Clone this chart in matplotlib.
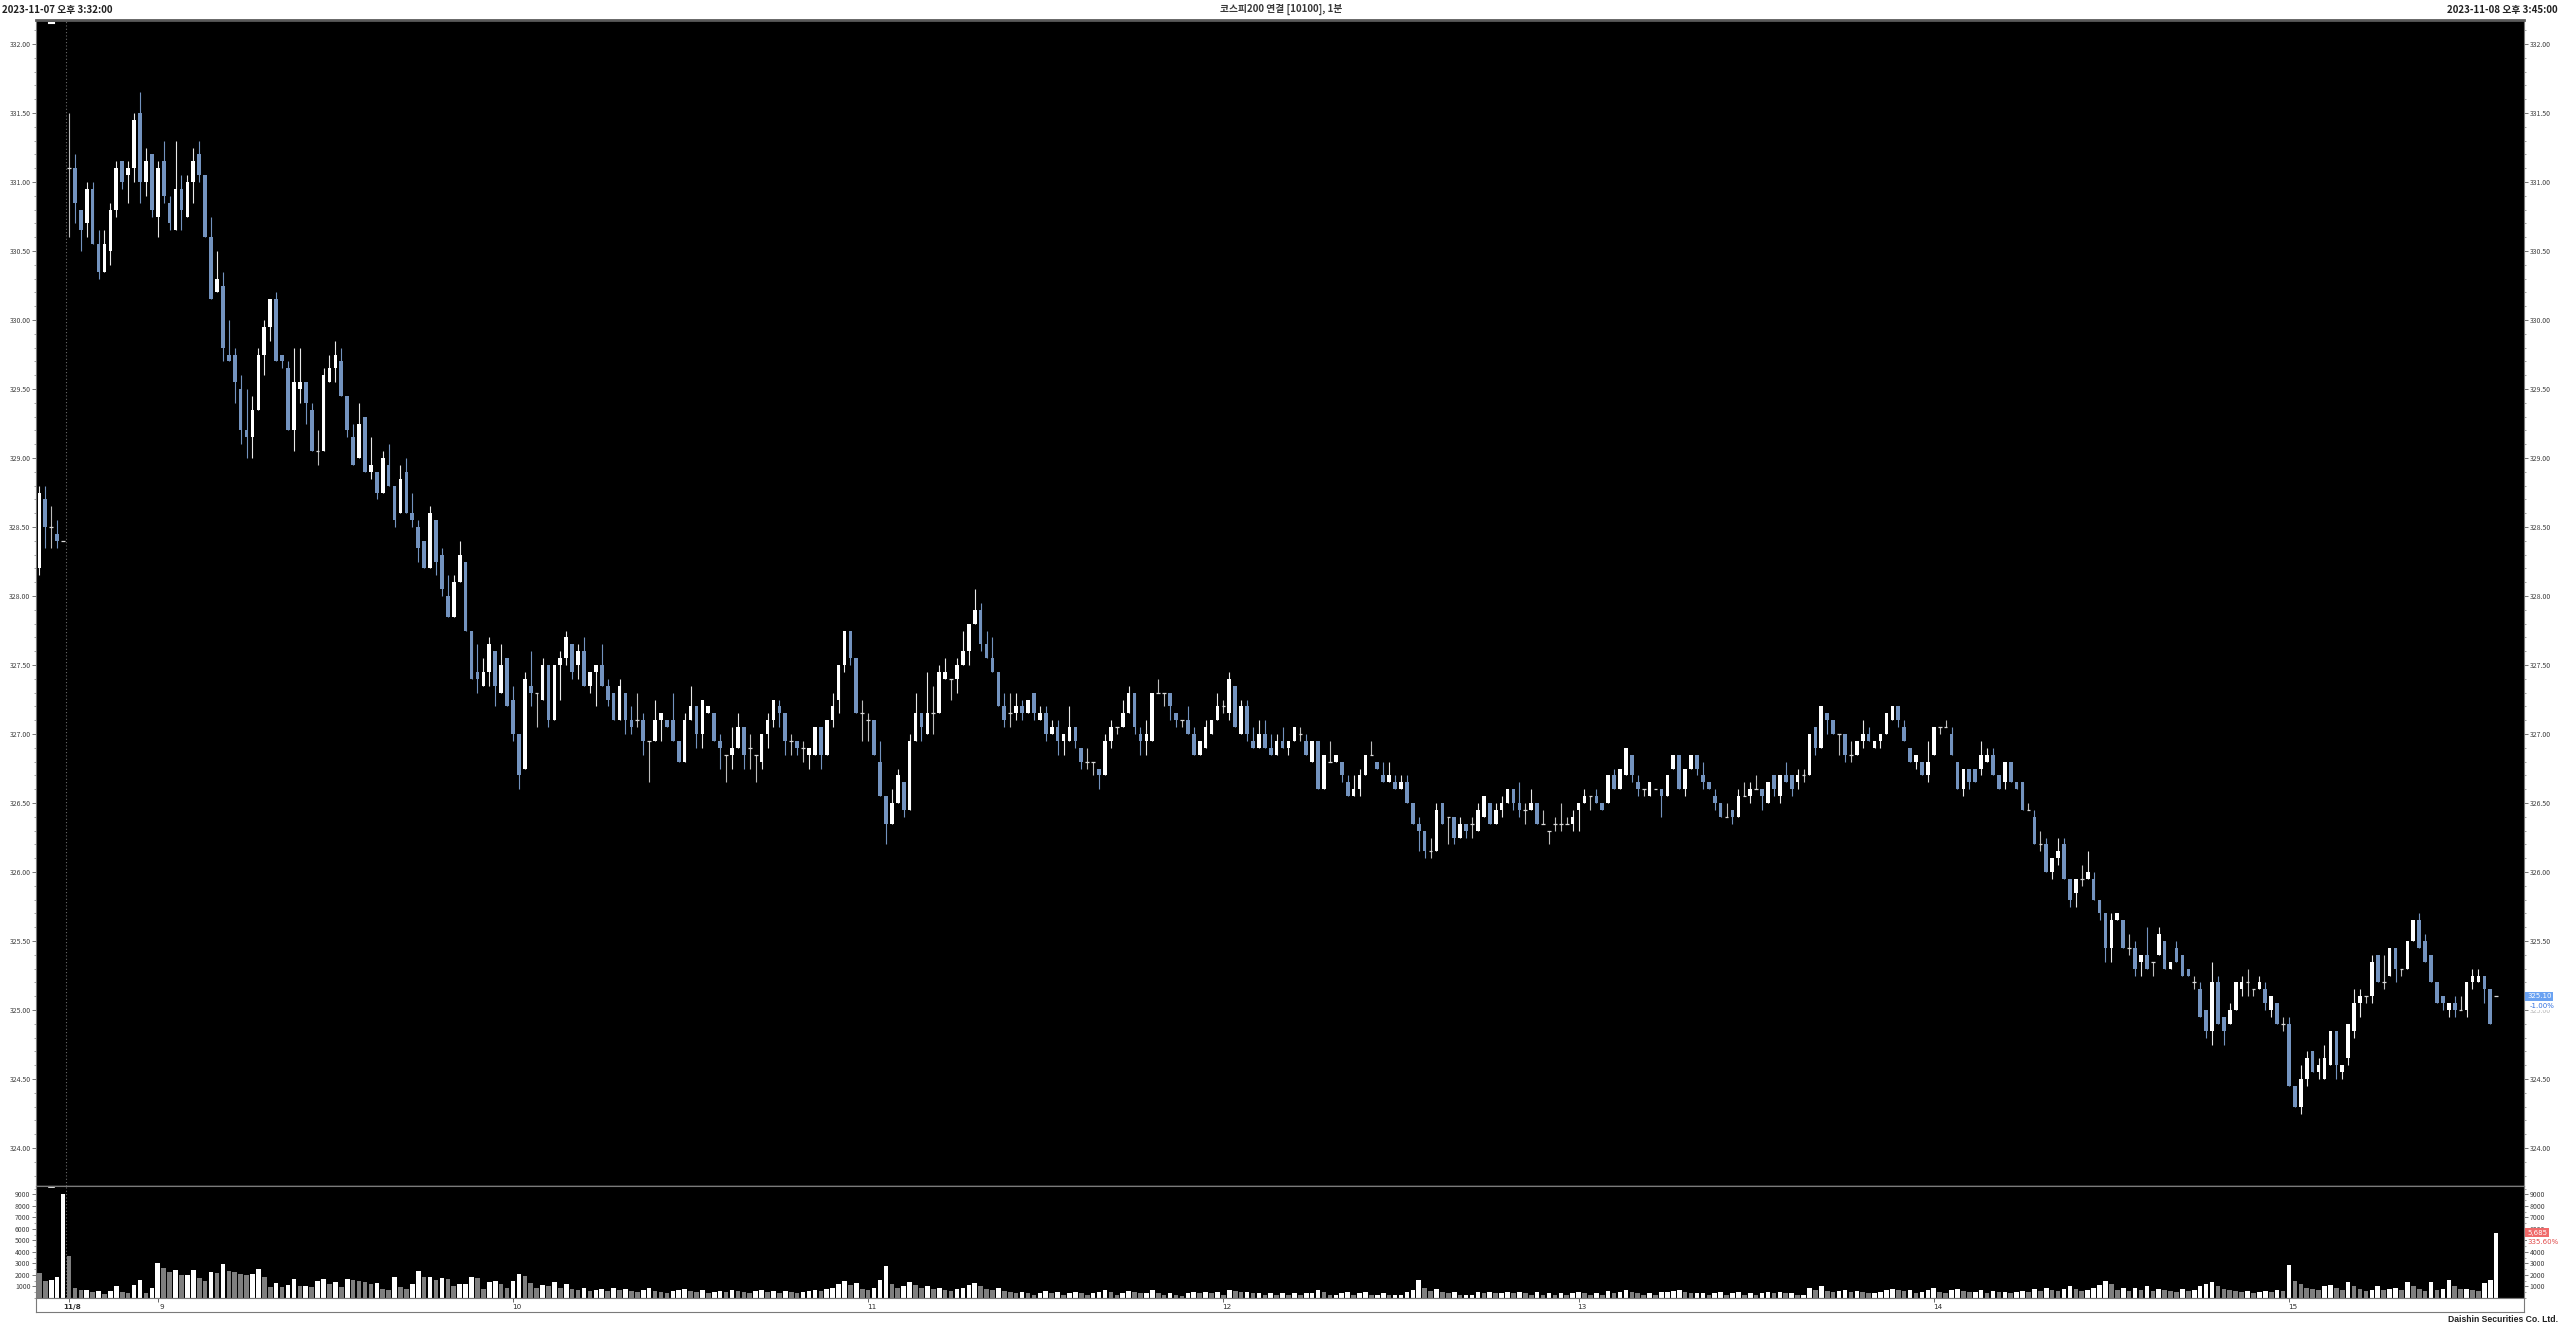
import matplotlib
matplotlib.use('Agg')
import matplotlib.pyplot as plt
import numpy as np
from matplotlib.ticker import MultipleLocator, FixedLocator, FormatStrFormatter
from matplotlib.transforms import blended_transform_factory as blend

plt.rcParams['font.family'] = ['Noto Sans CJK KR', 'DejaVu Sans']

# ---------------- data (1-minute candles; 5 from 11/7, then 11/8 08:45 .. 15:34 + 15:45) --------------
prev_day_count = 5
opens = [
    328.20, 328.70, 328.50, 328.45, 328.40,
    331.10, 331.10, 330.80, 330.70, 330.95, 330.55, 330.35, 330.50, 330.80, 331.15,
    331.05, 331.10, 331.50, 331.00, 331.20, 330.75, 331.15, 330.85, 330.65, 330.95,
    330.75, 331.00, 331.20, 331.05, 330.60, 330.20, 330.25, 329.75, 329.75, 329.50,
    329.20, 329.15, 329.35, 329.75, 329.95, 330.15, 329.75, 329.65, 329.20, 329.50,
    329.55, 329.35, 329.05, 329.05, 329.55, 329.65, 329.70, 329.45, 329.15, 329.00,
    329.30, 328.90, 328.90, 328.75, 328.95, 328.80, 328.60, 328.90, 328.60, 328.50,
    328.40, 328.20, 328.55, 328.30, 328.00, 327.85, 328.10, 328.25, 327.75, 327.45,
    327.35, 327.45, 327.60, 327.30, 327.55, 327.25, 327.00, 326.75, 327.35, 327.30,
    327.25, 327.50, 327.10, 327.50, 327.55, 327.65, 327.50, 327.60, 327.35, 327.45,
    327.50, 327.35, 327.30, 327.10, 327.30, 327.10, 327.10, 327.10, 326.95, 326.95,
    327.10, 327.10, 327.10, 326.95, 326.80, 327.10, 327.20, 327.00, 327.15, 327.15,
    326.95, 326.85, 326.85, 326.90, 327.05, 326.90, 326.85, 326.80, 327.00, 327.10,
    327.20, 327.15, 326.95, 326.95, 326.90, 326.85, 326.85, 327.05, 326.85, 327.10,
    327.25, 327.50, 327.75, 327.55, 327.15, 327.10, 327.10, 326.80, 326.55, 326.35,
    326.50, 326.65, 326.45, 326.95, 327.15, 327.00, 327.15, 327.15, 327.40, 327.40,
    327.40, 327.50, 327.60, 327.80, 327.90, 327.65, 327.55, 327.45, 327.20, 327.15,
    327.15, 327.20, 327.15, 327.30, 327.10, 327.15, 327.00, 327.05, 326.95, 326.95,
    327.05, 326.90, 326.80, 326.80, 326.75, 326.70, 326.95, 327.05, 327.05, 327.15,
    327.30, 327.00, 326.95, 326.95, 327.30, 327.30, 327.30, 327.15, 327.10, 327.10,
    327.00, 326.85, 326.90, 327.00, 327.10, 327.20, 327.15, 327.35, 327.00, 327.20,
    326.95, 326.90, 327.00, 326.90, 326.85, 326.95, 326.90, 326.95, 327.00, 326.95,
    326.80, 326.95, 326.60, 326.80, 326.80, 326.80, 326.65, 326.55, 326.60, 326.70,
    326.85, 326.80, 326.70, 326.65, 326.65, 326.60, 326.65, 326.50, 326.35, 326.30,
    326.15, 326.15, 326.50, 326.40, 326.40, 326.25, 326.35, 326.35, 326.30, 326.40,
    326.50, 326.35, 326.45, 326.50, 326.60, 326.50, 326.45, 326.45, 326.50, 326.35,
    326.30, 326.35, 326.35, 326.35, 326.35, 326.45, 326.50, 326.55, 326.55, 326.50,
    326.50, 326.70, 326.60, 326.70, 326.85, 326.65, 326.60, 326.55, 326.60, 326.60,
    326.55, 326.75, 326.85, 326.60, 326.75, 326.85, 326.70, 326.65, 326.55, 326.50,
    326.40, 326.45, 326.40, 326.55, 326.55, 326.60, 326.60, 326.50, 326.70, 326.55,
    326.70, 326.70, 326.65, 326.70, 326.70, 327.05, 326.90, 327.15, 327.10, 327.00,
    327.00, 326.85, 326.85, 326.95, 327.00, 326.90, 326.95, 327.00, 327.10, 327.20,
    327.05, 326.90, 326.80, 326.80, 326.70, 326.85, 327.05, 327.05, 327.00, 326.80,
    326.60, 326.75, 326.75, 326.75, 326.80, 326.85, 326.70, 326.65, 326.80, 326.65,
    326.65, 326.45, 326.40, 326.20, 326.20, 326.00, 326.10, 326.20, 325.95, 325.85,
    325.95, 325.95, 325.95, 325.80, 325.70, 325.45, 325.65, 325.65, 325.45, 325.45,
    325.35, 325.40, 325.35, 325.40, 325.50, 325.30, 325.45, 325.40, 325.30, 325.20,
    325.15, 325.00, 324.85, 325.20, 324.95, 324.90, 325.00, 325.15, 325.20, 325.15,
    325.15, 325.15, 325.00, 325.05, 324.90, 324.90, 324.45, 324.30, 324.50, 324.70,
    324.55, 324.50, 324.60, 324.85, 324.55, 324.65, 324.85, 325.05, 325.10, 325.10,
    325.40, 325.20, 325.25, 325.45, 325.30, 325.30, 325.50, 325.65, 325.50, 325.40,
    325.20, 325.10, 325.00, 325.05, 325.00, 325.00, 325.20, 325.20, 325.25, 325.15, 325.10,
]
highs = [
    328.80, 328.80, 328.65, 328.55, 328.40,
    331.50, 331.20, 330.80, 331.00, 331.00, 330.65, 330.65, 330.85, 331.15, 331.15,
    331.15, 331.50, 331.65, 331.25, 331.20, 331.15, 331.30, 330.90, 331.30, 331.05,
    331.05, 331.25, 331.30, 331.05, 330.75, 330.50, 330.35, 330.00, 329.80, 329.60,
    329.50, 329.45, 329.80, 330.00, 330.15, 330.20, 329.75, 329.70, 329.80, 329.80,
    329.55, 329.40, 329.20, 329.65, 329.75, 329.85, 329.80, 329.45, 329.25, 329.40,
    329.30, 329.15, 328.90, 329.05, 329.10, 328.80, 328.95, 329.00, 328.75, 328.55,
    328.40, 328.65, 328.55, 328.35, 328.15, 328.15, 328.40, 328.25, 327.75, 327.65,
    327.55, 327.70, 327.60, 327.65, 327.55, 327.35, 327.00, 327.45, 327.60, 327.30,
    327.55, 327.50, 327.50, 327.60, 327.75, 327.65, 327.65, 327.70, 327.45, 327.50,
    327.65, 327.40, 327.30, 327.40, 327.30, 327.20, 327.30, 327.15, 326.95, 327.25,
    327.15, 327.10, 327.30, 326.95, 327.15, 327.35, 327.20, 327.25, 327.20, 327.15,
    327.00, 326.85, 327.05, 327.15, 327.05, 327.00, 326.85, 327.00, 327.15, 327.25,
    327.25, 327.15, 327.00, 326.95, 326.95, 326.90, 327.05, 327.05, 327.10, 327.30,
    327.50, 327.75, 327.75, 327.55, 327.25, 327.15, 327.10, 326.95, 326.55, 326.60,
    326.75, 326.65, 327.00, 327.30, 327.15, 327.45, 327.35, 327.50, 327.55, 327.40,
    327.55, 327.75, 327.80, 328.05, 327.95, 327.75, 327.70, 327.45, 327.30, 327.30,
    327.30, 327.25, 327.25, 327.30, 327.20, 327.20, 327.10, 327.10, 327.00, 327.20,
    327.05, 326.90, 326.90, 326.80, 326.75, 327.00, 327.10, 327.05, 327.25, 327.35,
    327.30, 327.05, 327.10, 327.30, 327.40, 327.30, 327.30, 327.15, 327.10, 327.20,
    327.05, 326.95, 327.10, 327.10, 327.30, 327.25, 327.45, 327.35, 327.25, 327.25,
    327.05, 327.10, 327.10, 327.00, 327.00, 327.05, 326.95, 327.05, 327.05, 327.00,
    326.95, 326.95, 326.85, 326.95, 326.85, 326.80, 326.70, 326.70, 326.75, 326.85,
    326.95, 326.80, 326.80, 326.80, 326.70, 326.70, 326.70, 326.50, 326.40, 326.30,
    326.25, 326.50, 326.50, 326.40, 326.40, 326.40, 326.35, 326.40, 326.50, 326.55,
    326.50, 326.50, 326.55, 326.60, 326.60, 326.65, 326.50, 326.60, 326.50, 326.45,
    326.30, 326.40, 326.50, 326.40, 326.45, 326.50, 326.60, 326.55, 326.60, 326.50,
    326.70, 326.75, 326.75, 326.90, 326.85, 326.70, 326.60, 326.65, 326.60, 326.60,
    326.70, 326.85, 326.85, 326.75, 326.85, 326.85, 326.80, 326.65, 326.60, 326.50,
    326.50, 326.45, 326.60, 326.65, 326.65, 326.70, 326.60, 326.65, 326.70, 326.70,
    326.80, 326.70, 326.75, 326.75, 327.00, 327.05, 327.20, 327.15, 327.10, 327.00,
    327.00, 326.95, 326.95, 327.10, 327.05, 326.95, 327.00, 327.15, 327.20, 327.20,
    327.10, 326.90, 326.85, 326.80, 326.95, 327.05, 327.05, 327.10, 327.05, 326.80,
    326.75, 326.75, 326.75, 326.95, 326.90, 326.90, 326.70, 326.80, 326.80, 326.65,
    326.65, 326.50, 326.45, 326.30, 326.25, 326.10, 326.25, 326.25, 325.95, 325.95,
    326.05, 326.15, 326.00, 325.80, 325.70, 325.70, 325.70, 325.65, 325.55, 325.50,
    325.40, 325.60, 325.35, 325.60, 325.50, 325.35, 325.50, 325.40, 325.30, 325.25,
    325.20, 325.00, 325.35, 325.25, 324.95, 325.05, 325.20, 325.25, 325.30, 325.15,
    325.25, 325.20, 325.10, 325.05, 324.95, 324.95, 324.45, 324.60, 324.70, 324.70,
    324.65, 324.75, 324.85, 324.85, 324.60, 324.90, 325.15, 325.15, 325.10, 325.40,
    325.40, 325.40, 325.45, 325.45, 325.30, 325.50, 325.65, 325.70, 325.55, 325.40,
    325.20, 325.10, 325.05, 325.10, 325.10, 325.20, 325.30, 325.30, 325.25, 325.15, 325.10,
]
lows = [
    328.15, 328.35, 328.35, 328.35, 328.40,
    330.60, 330.70, 330.50, 330.60, 330.55, 330.30, 330.35, 330.40, 330.75, 330.95,
    330.85, 331.00, 330.85, 330.90, 330.75, 330.60, 330.85, 330.65, 330.65, 330.65,
    330.75, 330.85, 331.00, 330.60, 330.15, 330.20, 329.70, 329.70, 329.40, 329.10,
    329.00, 329.00, 329.35, 329.60, 329.85, 329.70, 329.65, 329.20, 329.05, 329.40,
    329.25, 329.05, 328.95, 329.05, 329.55, 329.55, 329.45, 329.15, 328.95, 329.00,
    328.90, 328.85, 328.70, 328.75, 328.80, 328.50, 328.60, 328.60, 328.50, 328.25,
    328.20, 328.20, 328.15, 328.00, 327.85, 327.85, 328.10, 327.75, 327.40, 327.30,
    327.35, 327.35, 327.20, 327.30, 327.20, 326.95, 326.60, 326.75, 327.20, 327.05,
    327.25, 327.05, 327.10, 327.25, 327.50, 327.40, 327.40, 327.35, 327.30, 327.20,
    327.35, 327.20, 327.10, 327.10, 327.00, 327.00, 327.05, 326.85, 326.65, 326.95,
    326.95, 327.05, 326.95, 326.80, 326.80, 327.10, 326.90, 326.90, 327.15, 326.95,
    326.75, 326.65, 326.75, 326.90, 326.75, 326.75, 326.65, 326.75, 326.90, 327.05,
    327.05, 326.85, 326.85, 326.85, 326.80, 326.75, 326.85, 326.75, 326.85, 327.05,
    327.15, 327.45, 327.50, 327.15, 326.95, 326.95, 326.85, 326.55, 326.20, 326.35,
    326.50, 326.40, 326.45, 326.95, 326.95, 327.00, 327.00, 327.15, 327.40, 327.25,
    327.30, 327.50, 327.50, 327.80, 327.60, 327.55, 327.45, 327.20, 327.05, 327.05,
    327.10, 327.10, 327.15, 327.10, 327.10, 326.95, 327.00, 326.85, 326.85, 326.95,
    326.90, 326.75, 326.75, 326.70, 326.60, 326.70, 326.90, 327.00, 327.05, 327.15,
    327.00, 326.85, 326.85, 326.95, 327.30, 327.20, 327.10, 327.05, 327.05, 327.00,
    326.85, 326.85, 326.90, 327.00, 327.10, 327.15, 327.10, 327.05, 327.00, 326.95,
    326.90, 326.90, 326.90, 326.85, 326.85, 326.90, 326.85, 326.95, 326.95, 326.85,
    326.80, 326.60, 326.60, 326.80, 326.80, 326.65, 326.55, 326.55, 326.55, 326.70,
    326.85, 326.75, 326.65, 326.65, 326.60, 326.60, 326.50, 326.35, 326.15, 326.10,
    326.10, 326.15, 326.35, 326.20, 326.20, 326.25, 326.25, 326.25, 326.30, 326.40,
    326.35, 326.35, 326.40, 326.50, 326.45, 326.40, 326.35, 326.45, 326.35, 326.35,
    326.20, 326.30, 326.30, 326.35, 326.30, 326.30, 326.50, 326.45, 326.50, 326.45,
    326.50, 326.60, 326.60, 326.70, 326.65, 326.55, 326.55, 326.55, 326.60, 326.40,
    326.55, 326.75, 326.60, 326.55, 326.75, 326.70, 326.60, 326.60, 326.45, 326.40,
    326.40, 326.35, 326.40, 326.55, 326.50, 326.60, 326.45, 326.50, 326.55, 326.50,
    326.65, 326.55, 326.60, 326.65, 326.70, 326.85, 326.90, 327.00, 327.00, 326.85,
    326.80, 326.80, 326.85, 326.90, 326.95, 326.90, 326.90, 327.00, 327.10, 327.05,
    326.95, 326.80, 326.75, 326.70, 326.65, 326.85, 327.00, 327.05, 326.85, 326.60,
    326.55, 326.60, 326.65, 326.70, 326.80, 326.70, 326.60, 326.60, 326.65, 326.60,
    326.45, 326.45, 326.20, 326.15, 326.00, 325.95, 326.05, 325.95, 325.75, 325.75,
    325.90, 325.95, 325.80, 325.65, 325.35, 325.35, 325.65, 325.45, 325.40, 325.25,
    325.25, 325.30, 325.25, 325.40, 325.30, 325.30, 325.35, 325.25, 325.25, 325.15,
    324.95, 324.80, 324.75, 324.90, 324.75, 324.90, 325.00, 325.10, 325.10, 325.10,
    325.15, 325.00, 324.95, 324.90, 324.85, 324.45, 324.30, 324.25, 324.45, 324.55,
    324.50, 324.50, 324.60, 324.50, 324.50, 324.60, 324.80, 324.95, 325.05, 325.05,
    325.20, 325.15, 325.25, 325.20, 325.25, 325.30, 325.50, 325.45, 325.35, 325.20,
    325.05, 325.00, 324.95, 324.95, 325.00, 324.95, 325.15, 325.20, 325.05, 324.90, 325.10,
]
closes = [
    328.75, 328.50, 328.50, 328.40, 328.40,
    331.10, 330.85, 330.65, 330.95, 330.55, 330.35, 330.55, 330.80, 331.10, 331.00,
    331.10, 331.45, 331.00, 331.15, 330.80, 331.10, 330.90, 330.70, 330.95, 330.80,
    331.00, 331.15, 331.05, 330.60, 330.15, 330.30, 329.80, 329.70, 329.55, 329.20,
    329.15, 329.35, 329.75, 329.95, 330.15, 329.70, 329.70, 329.20, 329.55, 329.55,
    329.40, 329.05, 329.05, 329.60, 329.65, 329.75, 329.45, 329.20, 328.95, 329.25,
    328.90, 328.95, 328.75, 329.00, 328.80, 328.55, 328.85, 328.60, 328.55, 328.35,
    328.20, 328.60, 328.25, 328.05, 327.85, 328.10, 328.30, 327.75, 327.40, 327.40,
    327.45, 327.65, 327.35, 327.50, 327.20, 327.00, 326.70, 327.40, 327.30, 327.30,
    327.50, 327.10, 327.50, 327.55, 327.70, 327.45, 327.60, 327.35, 327.45, 327.50,
    327.35, 327.25, 327.10, 327.35, 327.10, 327.05, 327.10, 326.95, 326.95, 327.10,
    327.15, 327.05, 326.95, 326.80, 327.10, 327.20, 327.00, 327.25, 327.20, 326.95,
    326.90, 326.85, 326.90, 327.05, 326.85, 326.90, 326.85, 327.00, 327.10, 327.25,
    327.15, 326.95, 326.95, 326.90, 326.90, 326.90, 327.05, 326.85, 327.10, 327.20,
    327.50, 327.75, 327.55, 327.15, 327.15, 327.10, 326.85, 326.55, 326.35, 326.50,
    326.70, 326.45, 326.95, 327.15, 327.05, 327.15, 327.15, 327.45, 327.45, 327.40,
    327.50, 327.60, 327.80, 327.90, 327.65, 327.55, 327.45, 327.20, 327.10, 327.15,
    327.20, 327.15, 327.25, 327.15, 327.15, 327.00, 327.05, 326.95, 327.00, 327.05,
    326.95, 326.80, 326.80, 326.80, 326.70, 326.95, 327.05, 327.05, 327.15, 327.30,
    327.05, 326.95, 327.00, 327.30, 327.30, 327.30, 327.20, 327.10, 327.10, 327.00,
    326.85, 326.95, 327.05, 327.10, 327.20, 327.20, 327.40, 327.05, 327.20, 327.00,
    326.90, 327.00, 326.90, 326.85, 326.95, 326.90, 326.95, 327.05, 327.00, 326.85,
    326.95, 326.60, 326.85, 326.80, 326.85, 326.70, 326.55, 326.60, 326.70, 326.85,
    326.85, 326.75, 326.65, 326.70, 326.60, 326.65, 326.50, 326.35, 326.30, 326.15,
    326.15, 326.45, 326.35, 326.40, 326.25, 326.35, 326.30, 326.35, 326.45, 326.55,
    326.35, 326.45, 326.50, 326.60, 326.50, 326.45, 326.45, 326.50, 326.35, 326.35,
    326.30, 326.35, 326.35, 326.35, 326.40, 326.50, 326.55, 326.55, 326.50, 326.45,
    326.70, 326.60, 326.75, 326.90, 326.70, 326.60, 326.60, 326.65, 326.60, 326.55,
    326.70, 326.85, 326.60, 326.75, 326.85, 326.75, 326.65, 326.60, 326.50, 326.40,
    326.40, 326.40, 326.55, 326.55, 326.60, 326.60, 326.55, 326.65, 326.60, 326.70,
    326.65, 326.60, 326.70, 326.70, 327.00, 326.90, 327.20, 327.10, 327.00, 327.00,
    326.85, 326.85, 326.95, 327.00, 326.95, 326.95, 327.00, 327.15, 327.20, 327.10,
    326.95, 326.80, 326.85, 326.70, 326.80, 327.05, 327.05, 327.05, 326.85, 326.60,
    326.75, 326.65, 326.65, 326.85, 326.85, 326.70, 326.60, 326.80, 326.65, 326.60,
    326.45, 326.45, 326.20, 326.20, 326.00, 326.10, 326.15, 325.95, 325.80, 325.95,
    325.95, 326.00, 325.80, 325.70, 325.45, 325.65, 325.70, 325.45, 325.45, 325.30,
    325.40, 325.30, 325.35, 325.55, 325.30, 325.35, 325.35, 325.25, 325.25, 325.20,
    324.95, 324.85, 325.20, 324.90, 324.85, 325.00, 325.20, 325.20, 325.20, 325.15,
    325.20, 325.05, 325.10, 324.90, 324.90, 324.45, 324.30, 324.50, 324.65, 324.55,
    324.60, 324.65, 324.85, 324.60, 324.60, 324.90, 325.05, 325.10, 325.10, 325.35,
    325.20, 325.20, 325.45, 325.30, 325.30, 325.50, 325.65, 325.45, 325.35, 325.20,
    325.05, 325.05, 325.05, 325.00, 325.00, 325.20, 325.25, 325.25, 325.15, 324.90, 325.10,
]
volumes = [
    2210, 1480, 1570, 1800, 9076,
    3665, 844, 700, 700, 524, 640, 350, 580, 1047, 524,
    407, 1105, 1540, 407, 844, 3054, 2618, 2240, 2414, 1978,
    1978, 2414, 1745, 1484, 2269, 2153, 2967, 2327, 2240, 2095,
    1978, 2065, 2531, 1862, 989, 1280, 989, 1164, 1629, 1047,
    1047, 960, 1513, 1658, 1222, 1396, 989, 1629, 1571, 1484,
    1396, 1193, 1338, 756, 698, 1804, 989, 785, 1222, 2356,
    1804, 1804, 1571, 1716, 1658, 1047, 1222, 1222, 1862, 1745,
    756, 1367, 1455,
    1200, 900, 1500, 2100, 1900, 1300, 900,
    1100, 1000, 1400, 900, 1200, 800, 700, 900, 600, 700, 800, 600, 900, 700, 800, 600, 500, 700, 900, 600,
    500, 400, 600, 700, 800, 600, 500, 700, 400, 500, 600, 500, 700, 600, 500, 400, 600, 700, 500, 600,
    400, 600, 500, 400, 500, 600, 700, 600, 800, 900, 1200, 1500, 1100, 1300, 800, 700, 900, 1600, 2800, 1200,
    900, 1000, 1400, 1100, 900, 1000, 800, 900, 700, 600, 800, 900, 1100, 1300, 1000, 800, 700, 900, 600, 500,
    400, 500, 400, 300, 400, 600, 400, 500, 300, 400, 500, 400, 300, 400, 500, 700, 500, 300, 400, 600,
    500, 400, 400, 700, 400, 300, 400, 300, 200, 400, 500, 400, 500, 400, 500, 300, 700, 600, 500, 500,
    400, 400, 300, 400, 300, 400, 300, 400, 300, 400, 400, 700, 500, 300, 300, 400, 500, 300, 400, 500,
    300, 300, 400, 300, 300, 300, 500, 700, 1600, 900, 600, 800, 500, 400, 500, 300, 300, 300, 500, 400,
    500, 400, 400, 500, 400, 500, 400, 300, 500, 300, 400, 300, 400, 300, 400, 500, 400, 300, 400, 300,
    600, 400, 500, 700, 500, 400, 300, 400, 300, 500, 500, 600, 700, 500, 400, 400, 400, 300, 400, 500,
    300, 400, 500, 300, 400, 300, 400, 500, 400, 500, 400, 400, 300, 300, 900, 700, 1000, 600, 500, 600,
    700, 500, 600, 500, 400, 400, 500, 700, 800, 700, 600, 700, 400, 500, 700, 900, 500, 400, 700, 800,
    600, 500, 500, 700, 400, 600, 500, 500, 400, 500, 600, 500, 800, 600, 900, 700, 600, 800, 1000, 800,
    600, 700, 900, 1100, 1500, 1200, 700, 900, 600, 900, 700, 1000, 600, 800, 700, 600, 500, 800, 600, 700,
    1000, 1200, 1400, 1000, 800, 700, 600, 500, 600, 400, 500, 600, 500, 700, 600, 2900, 1500, 1200, 900, 800,
    700, 1000, 1100, 900, 700, 1400, 1000, 800, 600, 700, 1000, 700, 800, 900, 700, 1400, 1000, 800, 600, 1400,
    700, 800, 1600, 1000, 800, 800, 700, 600, 1300, 1600, 5685,
]
time_tick_pos = [0, 15, 75, 135, 195, 255, 315, 375]
time_tick_labels = ['11/8', '9', '10', '11', '12', '13', '14', '15']
last_price, last_change = 325.10, '-1.00%'
last_volume, last_volume_text, volume_change = 5685, '5,685', '335.60%'
header_left = '2023-11-07 오후 3:32:00'
header_center = '코스피200 연결 [10100], 1분'
header_right = '2023-11-08 오후 3:45:00'
footer = 'Daishin Securities Co. Ltd.'

# ---------------- figure ----------------
W, H = 2560, 1328
fig = plt.figure(figsize=(W / 100, H / 100), dpi=100, facecolor='white')


def rect(x0, y0, x1, y1):
    return [x0 / W, 1 - y1 / H, (x1 - x0) / W, (y1 - y0) / H]


ax = fig.add_axes(rect(36, 20, 2524, 1186))
axv = fig.add_axes(rect(36, 1186, 2524, 1298), sharex=ax)
axs = fig.add_axes(rect(36, 1298, 2524, 1312), sharex=ax)

o = np.array(opens); h = np.array(highs); l = np.array(lows); c = np.array(closes)
v = np.array(volumes, dtype=float)
x = np.arange(len(o)) - prev_day_count

UP = '#ffffff'
DOWN = '#7393bf'
DOJI = '#d8d8d8'
up = c > o + 1e-9
down = c < o - 1e-9
flat = ~(up | down)

ax.set_facecolor('black')
axv.set_facecolor('black')
ax.set_xlim(-5.57, 414.7)
ax.set_ylim(323.725, 332.174)

wick_col = np.where(up, '#e8e8e8', np.where(down, DOWN, '#bdbdbd'))
ax.vlines(x, np.minimum(l, np.minimum(o, c)), np.maximum(h, np.maximum(o, c)),
          colors=wick_col, linewidth=0.8, zorder=2)
bw = 0.62
ax.bar(x[up], (c - o)[up], bottom=o[up], width=bw, color=UP, linewidth=0, zorder=3)
ax.bar(x[down], (o - c)[down], bottom=c[down], width=bw, color=DOWN, linewidth=0, zorder=3)
ax.hlines(c[flat], x[flat] - bw / 2, x[flat] + bw / 2, colors=DOJI, linewidth=0.9, zorder=3)

# volume: white when volume >= previous, grey otherwise
vcol = ['#7f7f7f'] + ['#ffffff' if v[k] >= v[k - 1] else '#7f7f7f' for k in range(1, len(v))]
axv.bar(x, v, width=0.78, color=vcol, linewidth=0)
axv.set_ylim(0, 9730)

# day separator
for a in (ax, axv):
    a.axvline(-0.45, color='#6a6a6a', linestyle=(0, (1, 2)), linewidth=0.8, zorder=1)

# axes styling
for a in (ax, axv, axs):
    for s in a.spines.values():
        s.set_color('#7a7a7a')
        s.set_linewidth(0.8)
ax.spines['top'].set_color('#5a5a5a')
ax.spines['top'].set_linewidth(2.0)
ax.spines['bottom'].set_color('#c8c8c8')
ax.spines['bottom'].set_linewidth(1.0)

ax.yaxis.set_major_locator(MultipleLocator(0.5))
ax.yaxis.set_minor_locator(MultipleLocator(0.1))
ax.yaxis.set_major_formatter(FormatStrFormatter('%.2f'))
axv.yaxis.set_major_locator(FixedLocator(list(range(1000, 9001, 1000))))
axv.yaxis.set_minor_locator(MultipleLocator(500))
axv.yaxis.set_major_formatter(FormatStrFormatter('%d'))
for a in (ax, axv):
    a.tick_params(axis='y', which='major', left=True, right=True, labelleft=True, labelright=True,
                  direction='out', length=3, width=0.6, colors='#606060', labelcolor='#404040',
                  labelsize=5, pad=1)
    a.tick_params(axis='y', which='minor', left=True, right=True, direction='out', length=1.5,
                  width=0.5, colors='#808080')
    a.tick_params(axis='x', which='both', bottom=False, top=False, labelbottom=False)

# right-side labels hidden under the current-value boxes
fig.canvas.draw()
for t in axv.yaxis.get_major_ticks():
    if abs(t.get_loc() - 5000) < 1:
        t.label2.set_visible(False)
for t in ax.yaxis.get_major_ticks():
    if abs(t.get_loc() - 325.0) < 1e-6:
        t.label2.set_alpha(0.35)

axs.set_facecolor('white')
axs.set_yticks([])
axs.set_xticks(time_tick_pos)
axs.tick_params(axis='x', top=True, bottom=False, direction='in', length=3, width=0.6,
                colors='#505050', labeltop=False, labelbottom=False)
tr = blend(axs.transData, axs.transAxes)
for p, lbl in zip(time_tick_pos, time_tick_labels):
    axs.text(p + 0.6, 0.35, lbl, transform=tr, ha='center', va='center', fontsize=5.2,
             color='#303030', family='DejaVu Sans',
             fontweight='bold' if '/' in lbl else 'normal')

# small markers at panel tops
ax.plot([-3.4, -2.6], [0.997, 0.997], transform=blend(ax.transData, ax.transAxes),
        color='white', linewidth=1.5, clip_on=False)
axv.plot([-3.4, -2.6], [0.99, 0.99], transform=blend(axv.transData, axv.transAxes),
         color='white', linewidth=1.2, clip_on=False)

# right-side current value labels
trp = blend(ax.transAxes, ax.transData)
ax.text(1.0013, last_price, f'{last_price:.2f}', transform=trp, ha='left', va='center',
        fontsize=5, color='white', family='DejaVu Sans', clip_on=False, zorder=10,
        bbox=dict(boxstyle='square,pad=0.25', fc='#6aa2f2', ec='none'))
ax.text(1.0022, last_price - 0.072, last_change, transform=trp, ha='left', va='center',
        fontsize=5, color='#2f6fe0', family='DejaVu Sans', clip_on=False, zorder=10,
        bbox=dict(boxstyle='square,pad=0.1', fc='white', ec='none'))
trv = blend(axv.transAxes, axv.transData)
axv.text(1.0013, last_volume, last_volume_text, transform=trv, ha='left', va='center',
         fontsize=5, color='white', family='DejaVu Sans', clip_on=False, zorder=10,
         bbox=dict(boxstyle='square,pad=0.25', fc='#f06a6a', ec='none'))
axv.text(1.0015, 4830, volume_change, transform=trv, ha='left', va='center',
         fontsize=5, color='#e04848', family='DejaVu Sans', clip_on=False, zorder=10,
         bbox=dict(boxstyle='square,pad=0.1', fc='white', ec='none'))

# header / footer
fig.text(2 / W, 1 - 10 / H, header_left, ha='left', va='center', fontsize=7,
         fontweight='bold', color='#202020')
fig.text(1281 / W, 1 - 9 / H, header_center, ha='center', va='center', fontsize=7,
         fontweight='bold', color='#383838')
fig.text(2558 / W, 1 - 10 / H, header_right, ha='right', va='center', fontsize=7,
         fontweight='bold', color='#202020')
fig.text(2558 / W, 1 - 1320 / H, footer, ha='right', va='center', fontsize=6.2,
         fontweight='bold', color='#202020', family='Liberation Sans')

fig.savefig('out.png', dpi=100, facecolor='white')
